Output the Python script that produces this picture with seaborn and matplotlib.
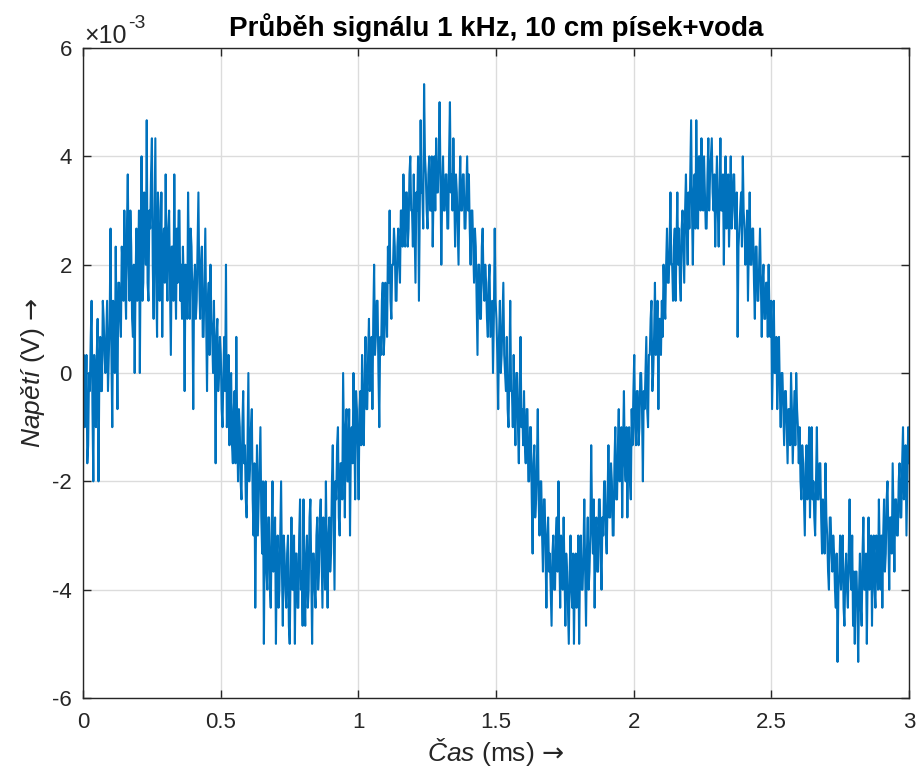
import numpy as np
import pandas as pd
import matplotlib
matplotlib.use("Agg")
import matplotlib.pyplot as plt
import matplotlib.ticker as mticker
import seaborn as sns

# Oscilloscope record: 3 ms window, quantised samples (ADC levels of 1/3 mV)
t_start_ms = 0.0
t_end_ms = 3.0
lsb_volts = 1e-3 / 3

# one row = 0.1 ms of samples
levels = [
    -1, 1, -3, -2, 1, -5, -4, 0, -1, 2, 4, -2, -6, 1, 0, -3, 1, 3, -6, 0, 2, -1, -1, 4, 3, 1, 0, 2, 4, -1, 1, 3,
    8, 1, -3, 4, 3, 0, 7, 2, -2, 5, 5, 3, 2, 7, 6, 4, 9, 5, 3, 8, 11, 6, 4, 9, 7, 3, 2, 6, 0, 5, 8, 4,
    6, 9, 0, 7, 12, 4, 5, 10, 9, 6, 14, 5, 4, 9, 8, 11, 13, 6, 3, 8, 13, 5, 2, 10, 9, 4, 6, 10, 2, 7, 8, 5,
    11, 6, 4, 8, 9, 5, 1, 7, 7, 4, 11, 6, 3, 8, 5, 9, 9, 4, 6, 3, 7, 5, -1, 6, 5, 3, 10, 6, 3, 8, 7, 4,
    -2, 5, 6, 3, 4, 7, 10, 5, 3, 6, 7, 2, 2, 5, 8, 3, -1, 4, 5, 1, 6, 3, 2, 0, 4, 1, -5, 2, 3, -1, 0, 2,
    1, -2, -3, 0, 2, -1, 6, -3, -2, 1, -4, -1, 0, -4, -5, -2, -1, -5, 2, -3, -6, -2, -3, -6, -7, -3, -1, -5, -4, -7, -8, -4,
    0, -6, -5, -3, -2, -7, -9, -5, -13, -8, -4, -9, -7, -5, -3, -8, -10, -6, -15, -9, -6, -11, -12, -8, -8, -12, -13, -9, -6, -11, -10, -8,
    -15, -10, -9, -13, -12, -9, -6, -11, -14, -9, -10, -12, -13, -10, -9, -14, -15, -11, -8, -12, -12, -9, -15, -10, -10, -13, -13, -9, -7, -12, -11, -14,
    -7, -12, -14, -10, -9, -13, -12, -8, -7, -11, -15, -10, -10, -12, -13, -9, -8, -12, -11, -8, -7, -10, -13, -8, -9, -12, -6, -10, -13, -9, -8, -11,
    -10, -6, -4, -8, -12, -6, -7, -4, -3, -8, -9, -5, -5, -7, 0, -4, -8, -3, -2, -6, -6, -2, -9, -4, -3, -5, 0, -3, -7, -1, -2, -4,
    -7, -2, -1, -4, 1, -3, -4, 0, 2, -2, -2, 1, 3, -1, 0, 2, -2, 3, 6, 1, 2, 4, 4, 0, -3, 2, 1, 4, 5, 1, 2, 5,
    4, 2, 7, 5, 9, 4, 3, 6, 6, 8, 7, 4, 4, 7, 8, 6, 5, 9, 9, 7, 11, 8, 7, 10, 10, 7, 8, 11, 12, 9, 9, 7,
    11, 8, 5, 10, 9, 12, 4, 9, 14, 10, 10, 8, 16, 12, 11, 9, 8, 11, 12, 9, 9, 12, 7, 10, 12, 9, 13, 10, 10, 12, 15, 11,
    6, 10, 12, 9, 9, 11, 11, 8, 8, 12, 15, 10, 11, 9, 13, 10, 7, 11, 10, 8, 6, 10, 12, 9, 9, 11, 11, 8, 8, 10, 12, 9,
    11, 8, 6, 9, 9, 7, 5, 8, 7, 4, 1, 6, 6, 3, 3, 7, 8, 5, 4, 6, 5, 3, 2, 5, 6, 2, 3, 4, 0, 3, 8, 4,
    3, 1, -2, 2, 4, 0, 1, 3, 5, 1, 0, -1, 2, -2, -3, 0, 4, -1, -1, -3, 1, -2, -4, 0, 0, -3, -5, -1, 2, -3, -2, -4,
    -1, -4, -5, -2, -2, -6, -6, -3, -3, -7, -10, -5, -4, -8, -7, -5, -2, -7, -9, -6, -6, -9, -11, -7, -7, -10, -13, -9, -8, -11, -10, -12,
    -14, -10, -9, -12, -12, -9, -8, -11, -6, -10, -13, -9, -10, -12, -8, -11, -14, -10, -11, -13, -15, -11, -9, -12, -13, -10, -15, -11, -10, -13, -12, -9,
    -15, -11, -9, -12, -12, -10, -7, -11, -14, -10, -8, -12, -11, -9, -4, -8, -10, -7, -13, -9, -8, -11, -11, -7, -7, -10, -12, -8, -9, -6, -6, -9,
    -10, -7, -4, -8, -8, -5, -6, -9, -9, -5, -3, -7, -7, -4, -2, -6, -5, -3, -8, -4, -1, -5, -6, -3, -8, -4, -3, -6, -7, -2, -4, -1,
    1, -3, -4, -1, -1, -4, -3, 0, 0, -2, -6, -1, -2, 0, 2, -2, -3, 1, 1, 3, 4, -1, 0, 2, 5, 1, 2, 4, -2, 3, 3, 1,
    4, 2, 6, 4, 3, 6, 8, 5, 5, 7, 10, 6, 6, 4, 7, 8, 4, 7, 10, 6, 8, 5, 4, 8, 9, 7, 5, 9, 11, 8, 6, 10,
    8, 11, 14, 9, 6, 10, 11, 8, 14, 10, 8, 12, 12, 9, 13, 10, 9, 12, 10, 8, 8, 11, 13, 9, 11, 12, 13, 10, 9, 11, 7, 10,
    12, 9, 7, 10, 13, 9, 9, 11, 6, 10, 12, 8, 10, 11, 7, 9, 12, 8, 9, 11, 11, 8, 8, 10, 2, 7, 8, 9, 10, 7, 12, 9,
    8, 6, 7, 9, 4, 7, 10, 6, 6, 8, 8, 5, 3, 7, 7, 4, 4, 6, 8, 5, 2, 5, 6, 3, 3, 5, 5, 2, 6, 3, 2, 4,
    -2, 1, 4, 0, 0, 2, -2, 1, 2, -1, -3, 0, 0, -2, -4, -1, -1, -3, -5, -2, -2, -4, 0, -2, -5, -3, -1, -4, 0, -2, -3, -5,
    -3, -6, -7, -4, -5, -7, -9, -5, -4, -7, -6, -3, -8, -5, -3, -7, -6, -8, -9, -6, -3, -7, -7, -5, -5, -8, -10, -7, -8, -10, -5, -8,
    -9, -11, -12, -8, -8, -10, -11, -9, -10, -12, -13, -10, -16, -12, -11, -9, -12, -10, -9, -13, -14, -11, -10, -12, -13, -10, -7, -11, -12, -9, -14, -11,
    -15, -11, -11, -13, -16, -12, -10, -13, -14, -10, -8, -12, -12, -10, -15, -11, -8, -12, -11, -9, -14, -10, -9, -12, -13, -9, -10, -12, -7, -10, -12, -9,
    -13, -9, -7, -11, -10, -7, -6, -9, -12, -8, -8, -10, -5, -8, -11, -7, -7, -9, -9, -6, -5, -8, -8, -5, -3, -7, -6, -4, -9, -6, -3, -5,
]

x_ticks = [0, 0.5, 1, 1.5, 2, 2.5, 3]
y_ticks = [-0.006, -0.004, -0.002, 0, 0.002, 0.004, 0.006]

title = "Průběh signálu 1 kHz, 10 cm písek+voda"

df = pd.DataFrame({
    "t": np.linspace(t_start_ms, t_end_ms, len(levels)),
    "u": np.array(levels) * lsb_volts,
})

sns.set_theme(style="whitegrid")
plt.rcParams["font.family"] = ["Liberation Sans", "DejaVu Sans"]
plt.rcParams["mathtext.fontset"] = "custom"
plt.rcParams["mathtext.rm"] = "Liberation Sans"
plt.rcParams["mathtext.it"] = "Liberation Sans:italic"
plt.rcParams["mathtext.cal"] = "DejaVu Sans"
plt.rcParams["axes.unicode_minus"] = False

fig = plt.figure(figsize=(9.16, 7.82), dpi=100)
ax = fig.add_axes([0.0906, 0.1074, 0.9018, 0.8312])

sns.lineplot(data=df, x="t", y="u", ax=ax, color="#0072BD", linewidth=1.5,
             estimator=None)

ax.set_xlim(0, 3)
ax.set_ylim(-0.006, 0.006)
ax.set_xticks(x_ticks)
ax.set_yticks(y_ticks)
ax.xaxis.set_major_formatter(mticker.FuncFormatter(lambda v, p: f"{v:g}"))
ax.yaxis.set_major_formatter(mticker.FuncFormatter(lambda v, p: f"{round(v * 1e3):d}"))

ax.grid(True, color="#dcdcdc", linewidth=1.0)
ax.set_facecolor("white")
for s in ax.spines.values():
    s.set_visible(True)
    s.set_color("#262626")
    s.set_linewidth(1.0)
ax.tick_params(direction="in", length=6, width=1, colors="#262626",
               labelsize=16, top=True, right=True, bottom=True, left=True)
ax.tick_params(axis="x", pad=10)
ax.tick_params(axis="y", pad=8)

# MATLAB-style exponent label above the y axis
fig.text(84 / 916, 1 - 43 / 782, "×10", fontsize=18, color="#262626", va="baseline")
fig.text(128 / 916, 1 - 28 / 782, "-3", fontsize=14, color="#262626", va="baseline")

ax.set_xlabel(r"$\mathit{Čas}$ (ms) $\mathcal{→}$", fontsize=19, color="#262626", labelpad=2)
ax.set_ylabel(r"$\mathit{Napětí}$ (V) $\mathcal{→}$", fontsize=19, color="#262626", labelpad=4)
ax.set_title(title, fontsize=20, fontweight="bold", color="black", pad=9)

fig.savefig("out.png", dpi=100, facecolor="white")
